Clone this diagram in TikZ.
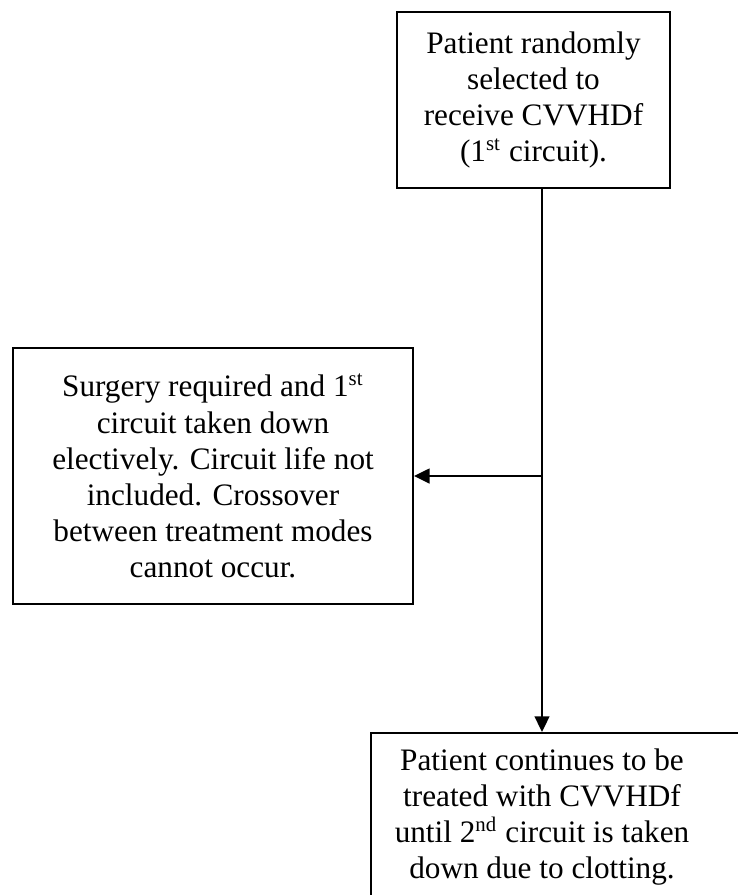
\documentclass[tikz,border=0pt]{standalone}
\usepackage{fontspec}
\setmainfont{Liberation Serif}
\usetikzlibrary{arrows.meta}

\begin{document}
\begin{tikzpicture}[x=0.0135cm, y=-0.0135cm,
  box/.style={draw, line width=0.75pt, inner sep=0pt, align=center, font=\fontsize{12}{13.9}\selectfont},
  txt/.style={inner sep=0pt, align=center, font=\fontsize{12}{13.9}\selectfont},
  arr/.style={-{Triangle[length=6pt, width=5.6pt]}, line width=0.95pt}]
\useasboundingbox (0,0) rectangle (738,895);
\clip (0,0) rectangle (738,895);

% Boxes
\node[box, minimum width=3.686cm, minimum height=2.376cm] (sel) at (533.5,100)
  {Patient randomly\\selected to\\receive CVVHDf\\(1\textsuperscript{st} circuit).};
\node[box, minimum width=5.4cm, minimum height=3.456cm] (surg) at (213,476)
  {Surgery required and 1\textsuperscript{st}\\circuit taken down\\electively. Circuit life not\\included. Crossover\\between treatment modes\\cannot occur.};
\node[box, anchor=north west, minimum width=5.5cm, minimum height=3cm] (cont) at (370,732) {};
\node[txt] (conttxt) at (542,817)
  {Patient continues to be\\treated with CVVHDf\\until 2\textsuperscript{nd} circuit is taken\\down due to clotting.};

% Junction
\coordinate (split) at (542,476);

% Arrows
\draw[arr] (split |- sel.south) -- (split |- cont.north);
\draw[arr] (split) -- (surg.east);

\end{tikzpicture}
\end{document}
